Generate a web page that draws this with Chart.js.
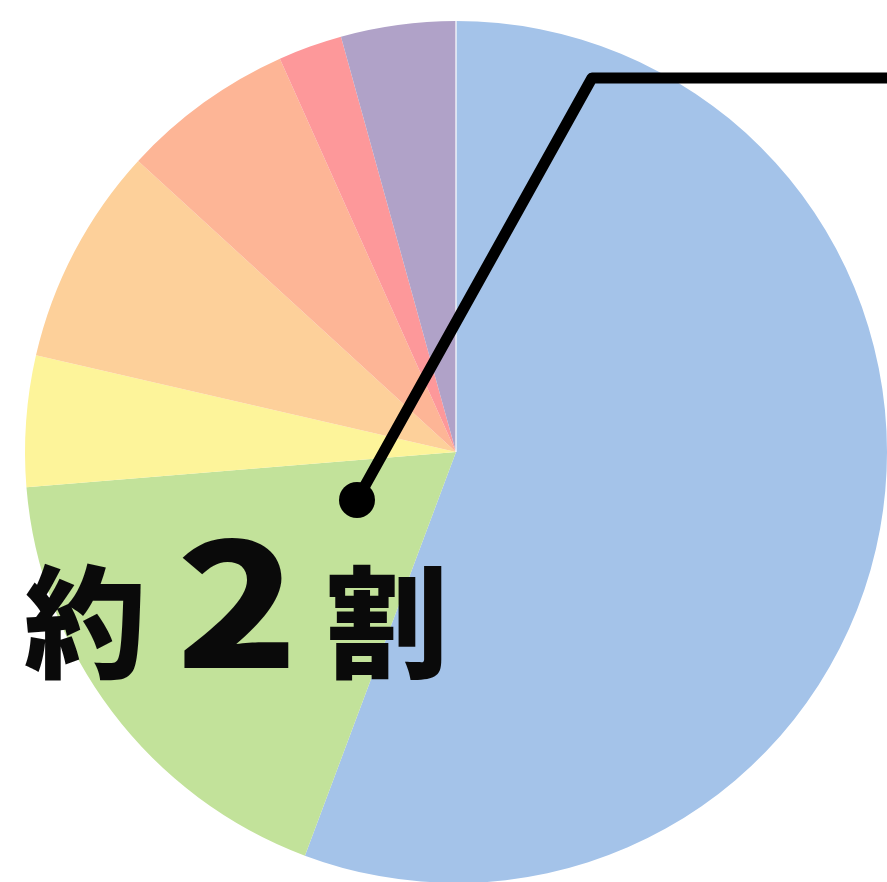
<!DOCTYPE html>
<html lang="ja">
<head>
<meta charset="utf-8">
<title>内訳</title>
<script src="https://cdn.jsdelivr.net/npm/chart.js@4"></script>
<style>
    html, body { margin: 0; padding: 0; background: #fff; overflow: hidden; }
    #pie { display: block; }
</style>
</head>
<body>
<canvas id="pie" width="887" height="890"></canvas>
<script>
// Share of each category (percent), clockwise from 12 o'clock
const categories = ['A', 'B', 'C', 'D', 'E', 'F', 'G'];
const shares = [55.7, 18.0, 4.9, 8.2, 6.5, 2.4, 4.3];
const sliceColors = ['#a4c3e9', '#c2e29a', '#fdf49a', '#fdd09a', '#fdb596', '#fd989a', '#b0a2c8'];

// Callout label pointing at the highlighted slice
const calloutParts = ['約', '2', '割'];

const calloutPlugin = {
    id: 'callout',
    afterDatasetsDraw(chart) {
        const ctx = chart.ctx;
        const first = chart.getDatasetMeta(0).data[0];
        const cx = first.x, cy = first.y, r = first.outerRadius;

        ctx.save();

        // hairline where the first slice begins
        ctx.strokeStyle = '#ffffff';
        ctx.lineWidth = 1.2;
        ctx.beginPath();
        ctx.moveTo(cx, cy);
        ctx.lineTo(cx + r * Math.cos(first.startAngle), cy + r * Math.sin(first.startAngle));
        ctx.stroke();

        // leader line from inside the green slice out to the right edge
        const dotX = cx - 99, dotY = cy + 48;
        const elbowX = cx + 136, elbowY = cy - 374;

        ctx.strokeStyle = '#000000';
        ctx.lineWidth = 11;
        ctx.lineJoin = 'round';
        ctx.beginPath();
        ctx.moveTo(dotX, dotY);
        ctx.lineTo(elbowX, elbowY);
        ctx.lineTo(chart.width + 10, elbowY);
        ctx.stroke();

        ctx.fillStyle = '#000000';
        ctx.beginPath();
        ctx.arc(dotX, dotY, 18, 0, Math.PI * 2);
        ctx.fill();

        // big label
        ctx.fillStyle = '#0a0a0a';
        ctx.textBaseline = 'alphabetic';
        ctx.textAlign = 'left';
        ctx.font = '900 122px "Noto Sans CJK JP", sans-serif';
        ctx.fillText(calloutParts[0], 24, 668);
        ctx.font = '900 172px "Noto Sans CJK JP", sans-serif';
        ctx.save();
        ctx.translate(176, 668);
        ctx.scale(1.17, 1);
        ctx.fillText(calloutParts[1], 0, 0);
        ctx.restore();
        ctx.font = '900 122px "Noto Sans CJK JP", sans-serif';
        ctx.fillText(calloutParts[2], 326, 668);

        ctx.restore();
    }
};

new Chart(document.getElementById('pie'), {
    type: 'pie',
    data: {
        labels: categories,
        datasets: [{
            data: shares,
            backgroundColor: sliceColors,
            borderWidth: 0
        }]
    },
    options: {
        responsive: false,
        animation: false,
        layout: { padding: { left: 25, right: 0, top: 21, bottom: 7 } },
        plugins: {
            legend: { display: false },
            tooltip: { enabled: false }
        }
    },
    plugins: [calloutPlugin]
});
</script>
</body>
</html>
